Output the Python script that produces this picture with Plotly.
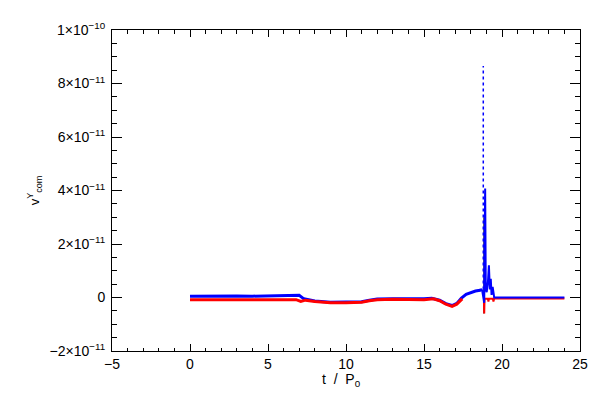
import numpy as np
import plotly.graph_objects as go

SCALE = 1e-11

# Blue series (units of 1e-11), smooth band part
t_blue = [0, 1, 2, 3, 4, 5, 6, 6.8, 7.0, 7.3, 8, 9, 10, 11, 11.5, 12, 13, 14, 15, 15.5,
          16, 16.4, 16.8, 17.1, 17.4, 17.7, 18.0, 18.3, 18.6, 18.72]
v_blue = [0.05, 0.06, 0.05, 0.06, 0.05, 0.06, 0.05, 0.06, 0.08, -0.05, -0.13, -0.18, -0.18,
          -0.16, -0.1, -0.06, -0.05, -0.06, -0.05, -0.03, -0.1, -0.23, -0.3, -0.22, -0.02,
          0.12, 0.18, 0.24, 0.27, 0.3]

# Blue series, spike part
t_blue_spk = [18.72, 18.86, 18.92, 18.96, 19.02, 19.1, 19.16, 19.22, 19.28, 19.33, 19.4, 19.5, 20, 24]
v_blue_spk = [0.3, -0.2, 4.07, 0.3, 0.2, 0.6, 1.2, 0.3, 0.7, 0.1, 0.4, 0.0, 0.0, 0.0]

# Blue sparse (dotted) peak
t_blue_peak = [18.8, 18.8]
v_blue_peak = [0.3, 8.65]

# Black thin trace near the spike
t_black = [18.84, 18.84]
v_black = [3.0, -0.6]

# Red series, smooth band part
t_red = [0, 1, 2, 3, 4, 5, 6, 6.8, 7.1, 7.4, 8, 9, 10, 11, 11.5, 12, 13, 14, 15, 15.6,
         16, 16.4, 16.8, 17.1, 17.45]
v_red = [-0.08, -0.08, -0.07, -0.08, -0.08, -0.07, -0.08, -0.08, -0.15, -0.1, -0.15, -0.2,
         -0.2, -0.18, -0.12, -0.08, -0.07, -0.08, -0.08, -0.05, -0.12, -0.25, -0.33, -0.25, -0.05]

# Red series, spike part
t_red_spk = [18.84, 18.86, 18.88, 19.1, 19.13, 19.16, 19.42, 19.45, 19.5, 24]
v_red_spk = [-0.1, -0.6, -0.05, -0.05, -0.15, -0.05, -0.05, -0.15, -0.04, -0.04]

y_ticks = [-2, 0, 2, 4, 6, 8, 10]
y_ticktext = ["\u22122\u00d710<sup>\u221211</sup>", "0", "2\u00d710<sup>\u221211</sup>",
              "4\u00d710<sup>\u221211</sup>", "6\u00d710<sup>\u221211</sup>",
              "8\u00d710<sup>\u221211</sup>", "1\u00d710<sup>\u221210</sup>"]
x_ticks = [-5, 0, 5, 10, 15, 20, 25]
x_ticktext = ["\u22125", "0", "5", "10", "15", "20", "25"]

BLUE = "#0000ff"
RED = "#ff0000"

def s(v):
    return np.array(v, dtype=float) * SCALE

fig = go.Figure()
fig.add_trace(go.Scatter(x=t_blue, y=s(v_blue), mode="lines",
                         line=dict(color=BLUE, width=3), showlegend=False))
fig.add_trace(go.Scatter(x=t_red, y=s(v_red), mode="lines",
                         line=dict(color=RED, width=3), showlegend=False))
fig.add_trace(go.Scatter(x=t_black, y=s(v_black), mode="lines",
                         line=dict(color="black", width=1), showlegend=False))
fig.add_trace(go.Scatter(x=t_red_spk, y=s(v_red_spk), mode="lines",
                         line=dict(color=RED, width=2), showlegend=False))
fig.add_trace(go.Scatter(x=t_blue_spk, y=s(v_blue_spk), mode="lines",
                         line=dict(color=BLUE, width=2), showlegend=False))
fig.add_trace(go.Scatter(x=t_blue_peak, y=s(v_blue_peak), mode="lines",
                         line=dict(color=BLUE, width=1.5, dash="dot"), showlegend=False))

font = dict(family="Liberation Sans, DejaVu Sans, sans-serif", size=14, color="black")

fig.update_layout(
    width=592, height=392,
    margin=dict(l=104, r=16, t=15, b=49),
    paper_bgcolor="white", plot_bgcolor="white",
    font=font,
    xaxis=dict(range=[-5, 25], tickvals=x_ticks, ticktext=x_ticktext,
               ticks="inside", ticklen=7, tickwidth=1, tickcolor="black",
               showline=True, linecolor="black", linewidth=1, mirror="ticks",
               showgrid=False, zeroline=False,
               minor=dict(dtick=1, ticks="inside", ticklen=3.5, tickcolor="black", showgrid=False),
               ticklabelstandoff=0),
    yaxis=dict(range=[-2e-11, 1e-10], tickvals=s(y_ticks), ticktext=y_ticktext,
               ticks="inside", ticklen=10, tickwidth=1, tickcolor="black",
               showline=True, linecolor="black", linewidth=1, mirror="ticks",
               showgrid=False, zeroline=False,
               minor=dict(dtick=0.5e-11, tick0=0, ticks="inside", ticklen=5, tickcolor="black", showgrid=False),
               ticklabelstandoff=3),
    annotations=[
        dict(text="t\u00a0\u00a0/\u00a0\u00a0P<sub>0</sub>", x=0.49, y=-0.091, xref="paper", yref="paper",
             showarrow=False, xanchor="center", yanchor="middle", font=font),
        dict(text="v<sup>Y</sup><sub>com</sub>", x=-0.167, y=0.5, xref="paper", yref="paper",
             showarrow=False, xanchor="center", yanchor="middle", textangle=-90,
             font=dict(family=font["family"], size=13, color="black")),
    ],
)

fig.write_html("out.html")
